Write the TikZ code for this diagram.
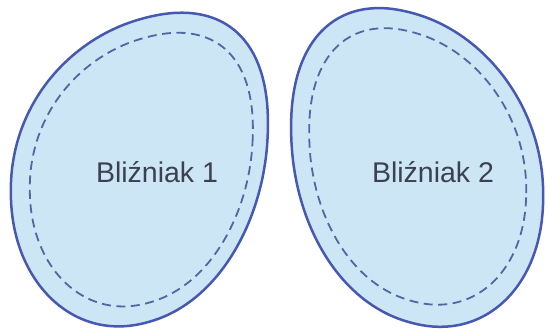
\documentclass[tikz,border=0pt]{standalone}
\usepackage{fontspec}
\setmainfont{Liberation Sans}
\definecolor{eggfill}{HTML}{CDE6F5}
\definecolor{eggline}{HTML}{4758B0}
\definecolor{eggdash}{HTML}{4F68A3}
\definecolor{eggtext}{HTML}{3B4150}
\tikzset{
  eggouter/.style={draw=eggline, line width=2.5pt, fill=eggfill},
  egginner/.style={draw=eggdash, line width=1.8pt, dash pattern=on 9pt off 5.5pt},
  eggtitle/.style={text=eggtext, font=\fontsize{28.5}{30}\selectfont, inner sep=0pt}
}
\pgfmathdeclarefunction{sc}{1}{\pgfmathparse{sign(cos(#1))*abs(cos(#1))^0.95}}
\pgfmathdeclarefunction{ss}{1}{\pgfmathparse{sign(sin(#1))*abs(sin(#1))^0.95}}
% #1 cx, #2 cy, #3 A, #4 C, #5 D, #6 W, #7 H, #8 bend x, #9 bend y
\newcommand{\eggpath}[9]{plot[domain=1:361, samples=181, variable=\t]
  ({#1 + #3*sc(\t) + #8*((#4*sc(\t)+#5*ss(\t))/#7)^2},
   {#2 + #4*sc(\t) + #5*ss(\t) + #9*(sc(\t))^2}) -- cycle}
\begin{document}
\begin{tikzpicture}[x=1pt,y=-1pt]
\useasboundingbox (0,0) rectangle (548,333);
\fill[white] (0,0) rectangle (548,333);
% left egg
\draw[eggouter] \eggpath{139}{170}{128.5}{-33}{152.5}{129}{157}{8}{-7.5};
\draw[egginner] \eggpath{141}{170}{111.5}{-29}{133}{112}{137}{7}{-6.5};
% right egg
\draw[eggouter] \eggpath{417.5}{167.5}{126}{33.5}{155}{126.5}{159.5}{-7.5}{-1};
\draw[egginner] \eggpath{418}{166.5}{108.5}{29}{134.5}{109}{138.5}{-6.5}{-1};
\node[eggtitle] (t1) at (157,172) {Bliźniak 1};
\node[eggtitle] (t2) at (433,172) {Bliźniak 2};
\end{tikzpicture}
\end{document}
